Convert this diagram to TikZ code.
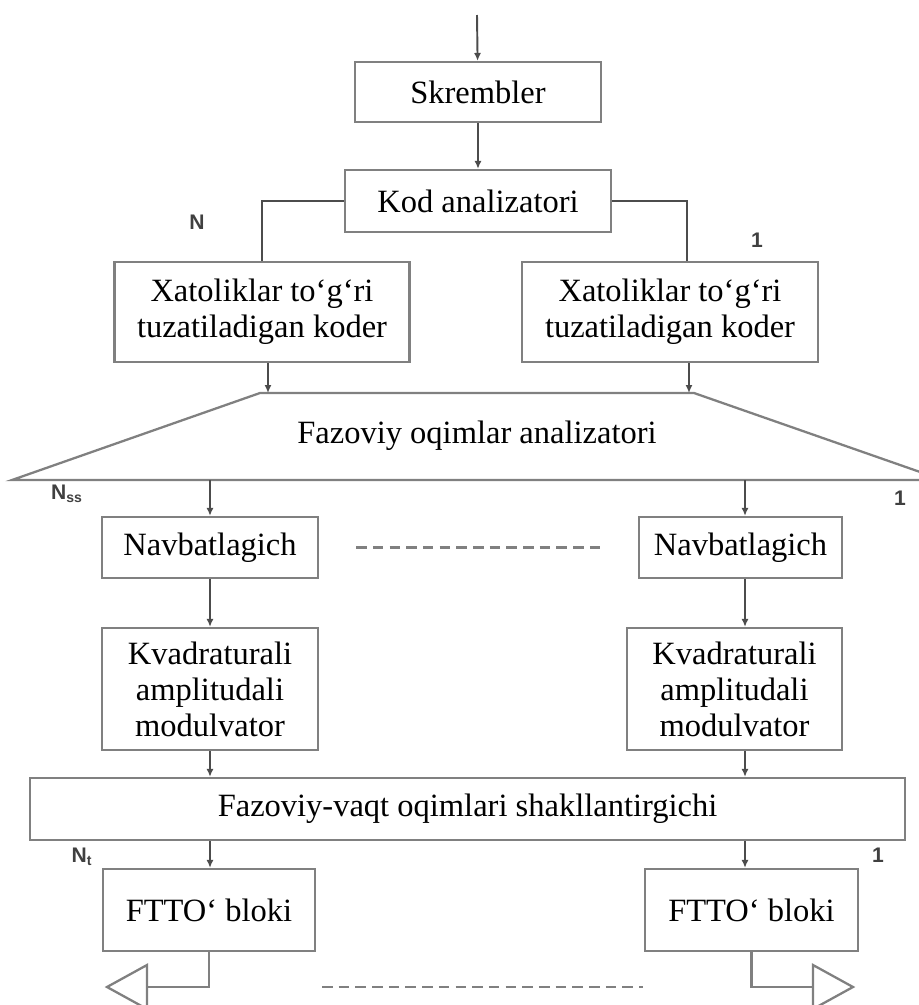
\documentclass[tikz,border=0pt]{standalone}
\usepackage{fontspec}
\setmainfont{Liberation Serif}
\newfontfamily\lblfont{Liberation Sans}
\usepackage{tikz}
\usepackage{xcolor}
\usetikzlibrary{calc}
\usetikzlibrary{arrows.meta}
\definecolor{boxgray}{gray}{0.5}
\definecolor{arrgray}{gray}{0.3}

\begin{document}
\begin{tikzpicture}[x=0.02cm, y=-0.02cm, align=center,
	font=\fontsize{18.5}{20.5}\selectfont,
	blk/.style={rectangle,draw=boxgray,line width=1.3pt,inner sep=0pt},
	arr/.style={draw=arrgray,line width=1.1pt,-{Latex[length=4.5pt,width=4pt]}},
	ln/.style={draw=arrgray,line width=1.1pt},
	dsh/.style={draw=boxgray,line width=1.3pt,dash pattern=on 6pt off 3.5pt},
	lbl/.style={font=\lblfont\bfseries\fontsize{12}{14}\selectfont,text=black!75}]
	\useasboundingbox (0,0) rectangle (919,1005);
	\clip (0,0) rectangle (919,1005);
	\coordinate (in) at (477,15);
	\coordinate (colL) at (210,0);
	\coordinate (colR) at (745,0);
	\coordinate (spa-tl) at (260,393);
	\coordinate (spa-tr) at (694,393);
	\coordinate (spa-br) at (943,480);
	\coordinate (spa-bl) at (12,480);
	\node[blk,minimum width=4.92cm,minimum height=1.2cm] (skr) at (478,92) {Skrembler};
	\node[blk,minimum width=5.32cm,minimum height=1.24cm] (kod) at (478,201) {Kod analizatori};
	\node[blk,minimum width=5.9cm,minimum height=2cm] (xl) at (262,312) {Xatoliklar to‘g‘ri\\tuzatiladigan koder};
	\node[blk,minimum width=5.92cm,minimum height=2cm] (xr) at (670,312) {Xatoliklar to‘g‘ri\\tuzatiladigan koder};
	\draw[boxgray,line width=1.3pt] (spa-tl) -- (spa-tr) -- (spa-br) -- (spa-bl) -- cycle;
	\node (spa) at (477,436) {Fazoviy oqimlar analizatori};
	\node[blk,minimum width=4.32cm,minimum height=1.22cm] (nav1) at (210,547.5) {Navbatlagich};
	\node[blk,minimum width=4.06cm,minimum height=1.22cm] (nav2) at (740.5,547.5) {Navbatlagich};
	\node[blk,minimum width=4.32cm,minimum height=2.44cm] (kam1) at (210,689) {Kvadraturali\\amplitudali\\modulvator};
	\node[blk,minimum width=4.3cm,minimum height=2.44cm] (kam2) at (734.5,689) {Kvadraturali\\amplitudali\\modulvator};
	\node[blk,minimum width=17.5cm,minimum height=1.24cm] (fvs) at (467.5,809) {Fazoviy-vaqt oqimlari shakllantirgichi};
	\node[blk,minimum width=4.24cm,minimum height=1.64cm] (ftt1) at (209,910) {FTTO‘ bloki};
	\node[blk,minimum width=4.26cm,minimum height=1.64cm] (ftt2) at (751.5,910) {FTTO‘ bloki};
	\coordinate (outl) at (147,987);
	\coordinate (outr) at (813,987);
	\node[lbl] (lN) at (197,222) {N};
	\node[lbl] (l1) at (757,240) {1};
	\node[lbl] (lNss) at (67,494) {N\textsubscript{ss}};
	\node[lbl] (l1b) at (900,498) {1};
	\node[lbl] (lNt) at (82,857) {N\textsubscript{t}};
	\node[lbl] (l1c) at (878,855) {1};
	\draw[arr] (in) -- (skr);
	\draw[arr] (skr) -- (kod);
	\draw[ln] (kod.west) -| (xl.north);
	\draw[ln] (kod.east) -| ($(xr.north)+(17,0)$);
	\draw[arr] ($(xl.south)+(6,0)$) -- ($(xl.south |- spa-tl)+(6,0)$);
	\draw[arr] ($(xr.south)+(19,0)$) -- ($(xr.south |- spa-tr)+(19,0)$);
	\draw[arr] (spa-bl -| colL) -- (nav1.north -| colL);
	\draw[arr] (spa-bl -| colR) -- (nav2.north -| colR);
	\draw[dsh] ($(nav1.east)+(37,0)$) -- ($(nav2.west)+(-32,0)$);
	\draw[arr] (nav1.south -| colL) -- (kam1.north -| colL);
	\draw[arr] (nav2.south -| colR) -- (kam2.north -| colR);
	\draw[arr] (kam1.south -| colL) -- (fvs.north -| colL);
	\draw[arr] (kam2.south -| colR) -- (fvs.north -| colR);
	\draw[arr] (fvs.south -| colL) -- (ftt1.north -| colL);
	\draw[arr] (fvs.south -| colR) -- (ftt2.north -| colR);
	\draw[ln,draw=boxgray,line width=1.3pt] (ftt1.south) |- (outl);
	\draw[ln,draw=boxgray,line width=1.3pt] (ftt2.south) |- (outr);
	\draw[boxgray,line width=1.3pt] (outl) ++(0,-22) -- ++(-40,22) -- ++(40,22) -- cycle;
	\draw[boxgray,line width=1.3pt] (outr) ++(0,-22) -- ++(40,22) -- ++(-40,22) -- cycle;
	\draw[dsh] ($(outl)+(175,0)$) -- ($(outr)+(-170,0)$);
\end{tikzpicture}
\end{document}
